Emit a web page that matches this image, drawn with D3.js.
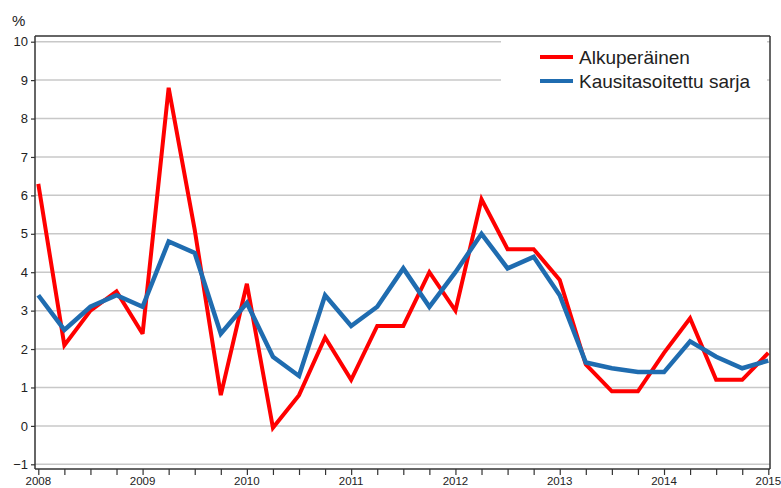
<!DOCTYPE html>
<html><head><meta charset="utf-8">
<script src="https://cdn.jsdelivr.net/npm/d3@7"></script>
<style>body{margin:0;background:#fff}svg{display:block}text{font-family:"Liberation Sans",Arial,sans-serif;fill:#222}</style>
</head><body>
<svg id="c" width="781" height="488"></svg>
<script>
const years = [2008, 2009, 2010, 2011, 2012, 2013, 2014, 2015];
const quarters = d3.range(29).map(i => 2008 + i / 4);
const yTicks = [-1, 0, 1, 2, 3, 4, 5, 6, 7, 8, 9, 10];
const seriesNames = ["Alkuperäinen", "Kausitasoitettu sarja"];
const original = [6.3, 2.1, 3.0, 3.5, 2.4, 8.8, 5.1, 0.8, 3.7, -0.05, 0.8, 2.3, 1.2, 2.6, 2.6, 4.0, 3.0, 5.9, 4.6, 4.6, 3.8, 1.6, 0.9, 0.9, 1.9, 2.8, 1.2, 1.2, 1.9];
const adjusted = [3.4, 2.5, 3.1, 3.4, 3.1, 4.8, 4.5, 2.4, 3.2, 1.8, 1.3, 3.4, 2.6, 3.1, 4.1, 3.1, 4.0, 5.0, 4.1, 4.4, 3.4, 1.65, 1.5, 1.4, 1.4, 2.2, 1.8, 1.5, 1.7];
const colors = ["#ff0000", "#1f6cb0"];

const svg = d3.select("#c");
const frame = {l: 35, r: 770, t: 36, b: 469};
const x = d3.scaleLinear().domain([2008, 2015]).range([38.3, 768.3]);
const y = d3.scaleLinear().domain([-1, 10]).range([464.3, 41.7]);

// gridlines
svg.append("g").selectAll("line").data(yTicks).join("line")
  .attr("x1", frame.l).attr("x2", frame.r)
  .attr("y1", d => y(d)).attr("y2", d => y(d))
  .attr("stroke", "#c8c8c8").attr("stroke-width", 1.5);

// legend white box
svg.append("rect").attr("x", 501).attr("y", frame.t).attr("width", 266).attr("height", 80).attr("fill", "#fff");

// lines
const line = d3.line().x((d, i) => x(quarters[i])).y(d => y(d));
[original, adjusted].forEach((s, k) => {
  svg.append("path").datum(s).attr("d", line).attr("fill", "none")
    .attr("stroke", colors[k]).attr("stroke-width", k === 0 ? 4 : 4.5)
    .attr("stroke-linejoin", "miter").attr("stroke-miterlimit", 3);
});

// frame top and right
svg.append("line").attr("x1", frame.l).attr("x2", frame.r).attr("y1", frame.t).attr("y2", frame.t).attr("stroke", "#333").attr("stroke-width", 1.5);
svg.append("line").attr("x1", frame.r).attr("x2", frame.r).attr("y1", frame.t).attr("y2", frame.b).attr("stroke", "#333").attr("stroke-width", 1.5);

// y axis
const yAxis = d3.axisLeft(y).tickValues(yTicks).tickSize(4).tickPadding(3).tickFormat(d3.format("d"));
const ya = svg.append("g").attr("transform", `translate(${frame.l},0)`).call(yAxis);
ya.select(".domain").attr("d", `M0,${frame.t}V${frame.b}`).attr("stroke", "#333").attr("stroke-width", 1.5);
ya.selectAll(".tick line").attr("stroke", "#333").attr("stroke-width", 1.2);
ya.selectAll(".tick text").style("font-size", "13px").attr("fill", "#222").attr("font-family", null);

// x axis
const xAxis = d3.axisBottom(x).tickValues(quarters).tickSize(6).tickFormat("");
const xa = svg.append("g").attr("transform", `translate(0,${frame.b})`).call(xAxis);
xa.select(".domain").attr("d", `M${frame.l},0H${frame.r}`).attr("stroke", "#333").attr("stroke-width", 1.5);
xa.selectAll(".tick line").attr("stroke", "#333").attr("stroke-width", 1.2);
svg.append("g").selectAll("text").data(years).join("text")
  .attr("x", d => x(d)).attr("y", 485).attr("text-anchor", "middle")
  .style("font-size", "11.5px").text(d => d);

// % label
svg.append("text").attr("x", 12).attr("y", 26).style("font-size", "15px").text("%");

// legend
const lg = svg.append("g");
seriesNames.forEach((n, k) => {
  const yy = 57 + k * 24;
  lg.append("line").attr("x1", 540).attr("x2", 573).attr("y1", yy).attr("y2", yy)
    .attr("stroke", colors[k]).attr("stroke-width", 4);
  lg.append("text").attr("x", 579).attr("y", yy + 7).style("font-size", "19px").text(n);
});
</script>
</body></html>
